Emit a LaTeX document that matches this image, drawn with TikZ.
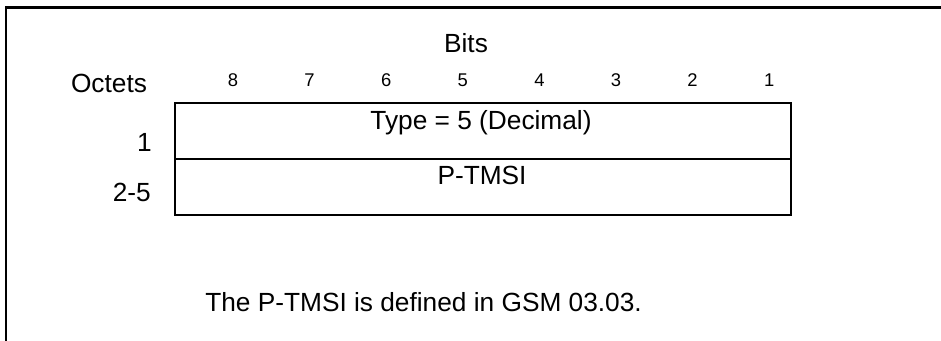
\documentclass[tikz,border=0pt]{standalone}
\usepackage{fontspec}
\setmainfont{Liberation Sans}
\begin{document}
\begin{tikzpicture}[x=0.75pt,y=-0.75pt,
  big/.style={font=\fontsize{19.7}{22}\selectfont, inner sep=0pt, anchor=base},
  bitnum/.style={font=\fontsize{13.8}{16}\selectfont, inner sep=0pt, anchor=base},
  field/.style={draw, line width=1.3pt, minimum width=616*0.75pt, minimum height=56*0.75pt, inner sep=0pt, anchor=north west},
  frame/.style={line width=2pt}]
\useasboundingbox (0,0) rectangle (941,340);
% outer frame (top and left only)
\coordinate (fbl) at (6,345);
\coordinate (ftl) at (6,7.5);
\coordinate (ftr) at (945,7.5);
\draw[frame] (fbl) -- (ftl) -- (ftr);
% header
\node[big] (bits) at (466,52) {Bits};
\node[big] (octets) at (109,92) {Octets};
\foreach \k in {8,7,6,5,4,3,2,1} {
  \node[bitnum] (b\k) at ({233+76.6*(8-\k)},86) {\k};
}
% fields
\node[field] (f1) at (174,102) {};
\node[field] (f2) at (174,158) {};
\node[big] (t1) at (481,129) {Type = 5 (Decimal)};
\node[big] (t2) at (482,184) {P-TMSI};
\node[big, anchor=base east] (o1) at (152,151) {1};
\node[big, anchor=base east] (o2) at (151,201) {2-5};
% note
\node[big, anchor=base west] (note) at (205,311) {The P-TMSI is defined in GSM 03.03.};
\end{tikzpicture}
\end{document}
